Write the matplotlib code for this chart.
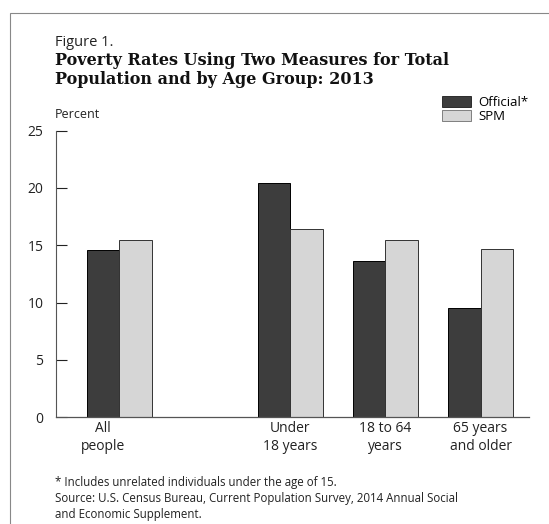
import matplotlib
matplotlib.use("Agg")
import matplotlib.pyplot as plt
from matplotlib.patches import Rectangle, Patch

plt.rcParams["font.family"] = ["Open Sans", "DejaVu Sans"]

# Poverty rates, 2013 (percent)
groups = ["All\npeople", "Under\n18 years", "18 to 64\nyears", "65 years\nand older"]
official = [14.6, 20.4, 13.6, 9.5]
spm = [15.5, 16.4, 15.5, 14.7]
series_names = ["Official*", "SPM"]

# group centres, with a wider gap after "All people"
centres = [0, 1.8, 2.8, 3.8]
w = 0.34

fig = plt.figure(figsize=(5.49, 5.24), dpi=100)
ax = fig.add_axes([0.102, 0.2036, 0.8616, 0.5472])

dark = "#3d3d3d"
light = "#d6d6d6"
ax.bar([c - w / 2 for c in centres], official, width=w, color=dark,
       edgecolor="black", linewidth=0.7)
ax.bar([c + w / 2 for c in centres], spm, width=w, color=light,
       edgecolor="#333333", linewidth=0.7)

ax.set_xlim(-0.666, 4.31)
ax.set_ylim(0, 25)
ax.set_yticks([0, 5, 10, 15, 20, 25])
ax.tick_params(axis="y", direction="in", length=8, width=0.8, pad=9,
               labelsize=10, colors="#222222")

# labels sit a little left of the first group's centre
label_pos = [centres[0] - 0.17] + centres[1:]
ax.set_xticks(label_pos)
ax.set_xticklabels(groups, fontsize=10, linespacing=1.25, color="#222222")
ax.tick_params(axis="x", length=0, pad=3)

for s in ["top", "right"]:
    ax.spines[s].set_visible(False)
ax.spines["left"].set_color("#555555")
ax.spines["left"].set_linewidth(0.8)
ax.spines["bottom"].set_color("#555555")
ax.spines["bottom"].set_linewidth(0.9)

handles = [Patch(facecolor=dark, edgecolor="black", linewidth=0.5),
           Patch(facecolor=light, edgecolor="#555555", linewidth=0.5)]
fig.legend(handles, series_names, loc="upper left",
           bbox_to_anchor=(442 / 549, 1 - 96 / 524), frameon=False,
           fontsize=9.5, handlelength=2.2, handleheight=0.9,
           handletextpad=0.55, labelspacing=0.05, borderpad=0,
           borderaxespad=0)

fig.text(55 / 549, 1 - 42 / 524, "Figure 1.", fontsize=10.5, va="center",
         color="#222222")
fig.text(55 / 549, 1 - 70 / 524,
         "Poverty Rates Using Two Measures for Total\n"
         "Population and by Age Group: 2013",
         fontsize=11.5, fontweight="bold", family="DejaVu Serif",
         va="center", linespacing=1.15, color="#111111")
fig.text(55 / 549, 1 - 115 / 524, "Percent", fontsize=9, va="center",
         color="#222222")

fig.text(55 / 549, 1 - 476 / 524,
         "* Includes unrelated individuals under the age of 15.\n"
         "Source: U.S. Census Bureau, Current Population Survey, 2014 Annual Social\n"
         "and Economic Supplement.",
         fontsize=8.3, va="top", linespacing=1.3, color="#222222")

# thin page frame
fig.add_artist(Rectangle((10 / 549, -0.2), 1.2, 1.2 - 13 / 524,
                         transform=fig.transFigure, fill=False,
                         edgecolor="#888888", linewidth=0.8))

fig.savefig("out.png", dpi=100)
